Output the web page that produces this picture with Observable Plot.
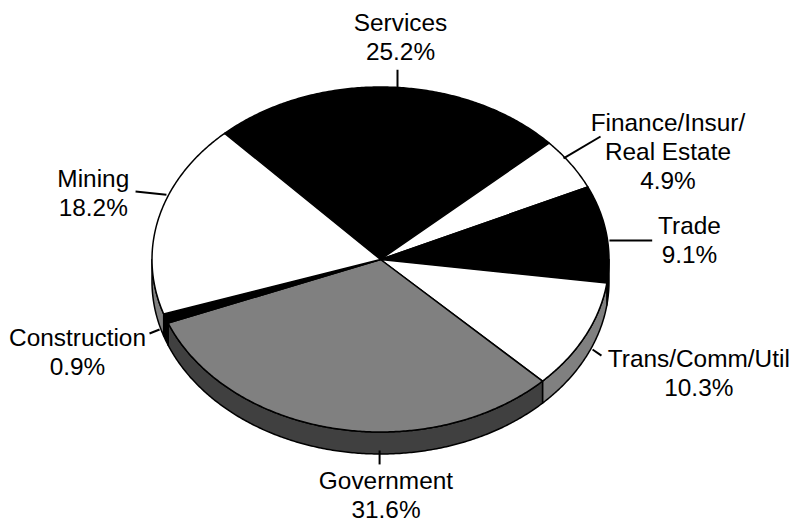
<!DOCTYPE html>
<html>
<head>
<meta charset="utf-8">
<style>
  html, body { margin: 0; padding: 0; background: #fff; }
  svg { display: block; }
</style>
<script src="https://cdn.jsdelivr.net/npm/d3@7"></script>
<script src="https://cdn.jsdelivr.net/npm/@observablehq/plot@0.6"></script>
</head>
<body>
<script>
// Employment share by sector, clockwise from the Services wedge.
const sectors = ["Services", "Finance/Insur/\nReal Estate", "Trade", "Trans/Comm/Util", "Government", "Construction", "Mining"];
const shares = [25.2, 4.9, 9.1, 10.3, 31.6, 0.9, 18.2];
const topFills = ["#000000", "#ffffff", "#000000", "#ffffff", "#808080", "#000000", "#ffffff"];
const wallFills = ["#000000", "#808080", "#000000", "#808080", "#404040", "#000000", "#808080"];

// Pie layout, in degrees clockwise from twelve o'clock; the disc is the unit circle.
const startDeg = -43;
const wallDepth = 0.1275;

// Label centres and leader ends, in the same unit-circle coordinates.
const labelX = [0.0875, 1.258, 1.352, 1.393, 0.024, -1.326, -1.257];
const labelY = [1.295, 0.631, 0.119, -0.652, -1.360, -0.531, 0.390];
const leaderX1 = [0.0744, 0.801, 1.002, 0.928, -0.004, -1.011, -1.072];
const leaderY1 = [0.997, 0.586, 0.11, -0.522, -1.107, -0.429, 0.394];
const leaderX2 = [0.0744, 0.963, 1.189, 0.967, -0.004, -0.967, -0.937];
const leaderY2 = [1.1, 0.713, 0.11, -0.557, -1.188, -0.406, 0.375];

const rad = Math.PI / 180;
const start = startDeg * rad;
const arcs = d3.pie().sort(null).startAngle(start).endAngle(start + 2 * Math.PI)(shares);

const rim = (a, drop = 0) => ({x: Math.sin(a), y: Math.cos(a) - drop});
const sweep = (a0, a1) => d3.range(0, 1.0001, 1 / Math.max(2, Math.ceil(Math.abs(a1 - a0) / (0.5 * rad))))
  .map((t) => a0 + (a1 - a0) * t);

// Top face of each wedge: centre, along the rim, back to the centre.
const topFaces = arcs.flatMap((arc, i) => {
  const pts = [{x: 0, y: 0}, ...sweep(arc.startAngle, arc.endAngle).map((a) => rim(a)), {x: 0, y: 0}];
  return pts.map((p) => ({...p, id: i, color: topFills[i]}));
});

// Side wall: only the part of a wedge's rim on the near half of the disc shows.
const nearFrom = Math.PI / 2;
const nearTo = 3 * Math.PI / 2;
const wallFaces = arcs.flatMap((arc, i) => {
  const a0 = Math.max(arc.startAngle, nearFrom);
  const a1 = Math.min(arc.endAngle, nearTo);
  if (a1 <= a0) return [];
  const angles = sweep(a0, a1);
  const pts = [
    ...angles.map((a) => rim(a)),
    ...angles.slice().reverse().map((a) => rim(a, wallDepth)),
    rim(a0)
  ];
  return pts.map((p) => ({...p, id: i, color: wallFills[i]}));
});

const labels = sectors.map((name, i) => ({
  text: `${name}\n${shares[i].toFixed(1)}%`,
  x: labelX[i],
  y: labelY[i]
}));
const leaders = sectors.map((_, i) => ({
  x1: leaderX1[i], y1: leaderY1[i], x2: leaderX2[i], y2: leaderY2[i]
}));

const chart = Plot.plot({
  width: 793,
  height: 521,
  margin: 0,
  style: {background: "#fff"},
  x: {domain: [-1, 1], range: [151.5, 608.5], axis: null},
  y: {domain: [-1, 1], range: [431.5, 86.5], axis: null},
  marks: [
    Plot.line(wallFaces, {x: "x", y: "y", z: "id", fill: "color", stroke: "#000", strokeWidth: 1.5}),
    Plot.line(topFaces, {x: "x", y: "y", z: "id", fill: "color", stroke: "#000", strokeWidth: 1.5}),
    Plot.link(leaders, {x1: "x1", y1: "y1", x2: "x2", y2: "y2", stroke: "#000", strokeWidth: 2}),
    Plot.text(labels, {
      x: "x", y: "y", text: "text",
      fontFamily: "Liberation Sans, Arial, sans-serif",
      fontSize: 24.4, lineHeight: 29 / 24.4, fill: "#000"
    })
  ]
});
document.body.appendChild(chart);
</script>
</body>
</html>
